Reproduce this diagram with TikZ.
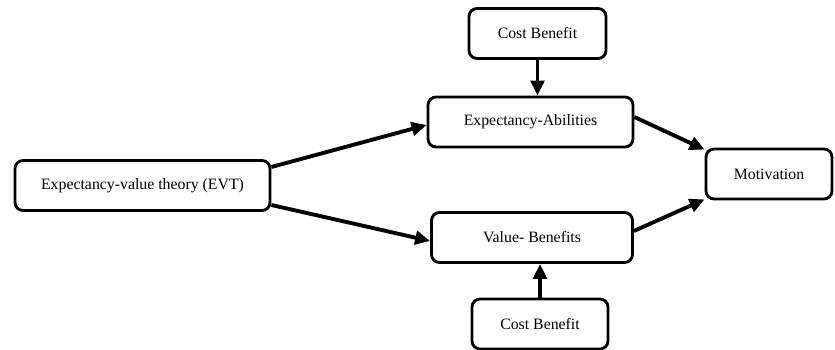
\documentclass[tikz,border=0pt]{standalone}
\usepackage{fontspec}
\setmainfont{Liberation Serif}
\usetikzlibrary{arrows.meta}
\tikzset{
  box/.style={draw, line width=1.6pt, rounded corners=0.16cm, fill=white,
    font=\fontsize{9}{11}\selectfont, align=center},
  link/.style={line width=2.2pt, -{Triangle[length=0.3cm,width=0.27cm]}}
}

\begin{document}
\begin{tikzpicture}[x=0.02cm,y=-0.02cm]
			%%%%% START %%%%%
			\def\boxh{1.0cm}
			\useasboundingbox (0,0) rectangle (835,350);

			\node[box, minimum width=5.1cm, minimum height=\boxh] (evt) at (142.5,185.5) {Expectancy-value theory (EVT)};
			\node[box, minimum width=2.74cm, minimum height=\boxh] (cbtop) at (537.5,33.5) {Cost Benefit};
			\node[box, minimum width=4.1cm, minimum height=\boxh] (abil) at (530.5,122) {Expectancy-Abilities};
			\node[box, minimum width=4.02cm, minimum height=\boxh] (bene) at (532,237.5) {Value- Benefits};
			\node[box, minimum width=2.72cm, minimum height=\boxh] (cbbot) at (540,324) {Cost Benefit};
			\node[box, minimum width=2.52cm, minimum height=\boxh] (motiv) at (769,174) {Motivation};

			\draw[link] (cbtop.south) -- (cbtop.south |- abil.north);
			\draw[link] (cbbot.north) -- (cbbot.north |- bene.south);

			\draw[link] ([yshift=0.37cm]evt.east) -- ([yshift=-0.06cm]abil.west);
			\draw[link] ([yshift=-0.39cm]evt.east) -- ([yshift=-0.07cm]bene.west);

			\draw[link] ([yshift=0.1cm]abil.east) -- ([yshift=-0.04cm]motiv.north west);
			\draw[link] ([yshift=0.13cm]bene.east) -- ([yshift=0.02cm]motiv.south west);
			%%%%% END %%%%%
\end{tikzpicture}
\end{document}
